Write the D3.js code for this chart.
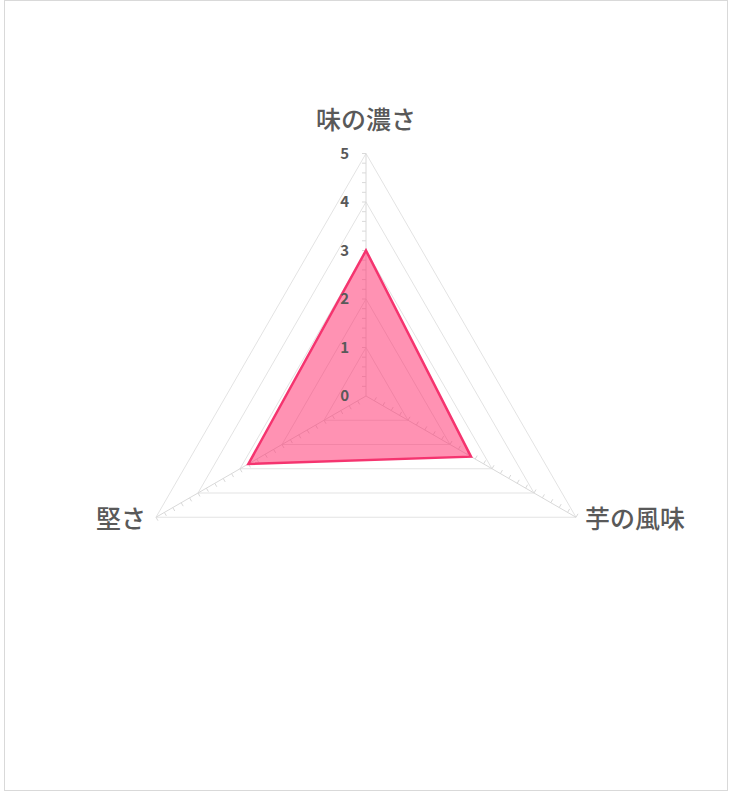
<!DOCTYPE html>
<html>
<head>
<meta charset="utf-8">
<script src="https://cdn.jsdelivr.net/npm/d3@7"></script>
<style>
  body { margin: 0; background: #fff; }
  svg text { font-family: "Noto Sans CJK JP", "Noto Sans", sans-serif; fill: #595959; }
</style>
</head>
<body>
<div id="chart"></div>
<script>
const width = 734,
  height = 800,
  cx = 366,
  cy = 396,
  radius = 242.5;

// data
const categories = ["味の濃さ", "芋の風味", "堅さ"];
const values = [3, 2.5, 2.8];
const tickValues = [0, 1, 2, 3, 4, 5];

const rScale = d3.scaleLinear().domain([0, 5]).range([0, radius]);
const angle = i => -Math.PI / 2 + i * 2 * Math.PI / categories.length;
const pt = (i, v) => [cx + rScale(v) * Math.cos(angle(i)), cy + rScale(v) * Math.sin(angle(i))];

const svg = d3.select("#chart")
  .append("svg")
  .attr("width", width)
  .attr("height", height);

// outer border
svg.append("rect")
  .attr("x", 4.5).attr("y", 0.5)
  .attr("width", 723).attr("height", 790)
  .attr("fill", "none")
  .attr("stroke", "#d9d9d9");

// grid triangles
svg.append("g")
  .selectAll("polygon")
  .data(tickValues.filter(d => d > 0))
  .join("polygon")
  .attr("points", d => categories.map((c, i) => pt(i, d).join(",")).join(" "))
  .attr("fill", "none")
  .attr("stroke", "#e3e3e3")
  .attr("stroke-width", 1);

// axes
const axisG = svg.append("g");
axisG.selectAll("line.spoke")
  .data(categories)
  .join("line")
  .attr("class", "spoke")
  .attr("x1", cx).attr("y1", cy)
  .attr("x2", (d, i) => pt(i, 5)[0])
  .attr("y2", (d, i) => pt(i, 5)[1])
  .attr("stroke", "#d9d9d9");

// minor ticks every 0.2
const minorTicks = d3.range(1, 26).map(k => k / 5);
categories.forEach((c, i) => {
  const a = angle(i);
  const px = -Math.sin(a), py = Math.cos(a); // clockwise perpendicular
  axisG.append("g")
    .selectAll("line")
    .data(minorTicks)
    .join("line")
    .attr("x1", d => pt(i, d)[0])
    .attr("y1", d => pt(i, d)[1])
    .attr("x2", d => pt(i, d)[0] - px * 4)
    .attr("y2", d => pt(i, d)[1] - py * 4)
    .attr("stroke", "#d9d9d9");
});

// data polygon
svg.append("polygon")
  .datum(values)
  .attr("points", d => d.map((v, i) => pt(i, v).join(",")).join(" "))
  .attr("fill", "#ff2e6e")
  .attr("fill-opacity", 0.52)
  .attr("stroke", "#f5346f")
  .attr("stroke-width", 2.5)
  .attr("stroke-linejoin", "miter");

// tick labels
svg.append("g")
  .selectAll("text")
  .data(tickValues)
  .join("text")
  .attr("x", cx - 17)
  .attr("y", d => cy - rScale(d))
  .attr("dy", "0.35em")
  .attr("text-anchor", "end")
  .style("font-size", "15px")
  .style("font-weight", "bold")
  .text(d => d);

// category labels
const labelPos = [
  { x: cx, y: cy - radius - 33, anchor: "middle" },
  { x: pt(1, 5)[0] + 9, y: pt(1, 5)[1] + 2, anchor: "start" },
  { x: pt(2, 5)[0] - 10, y: pt(2, 5)[1] + 2, anchor: "end" }
];
svg.append("g")
  .selectAll("text")
  .data(categories)
  .join("text")
  .attr("x", (d, i) => labelPos[i].x)
  .attr("y", (d, i) => labelPos[i].y)
  .attr("dy", "0.35em")
  .attr("text-anchor", (d, i) => labelPos[i].anchor)
  .style("font-size", "25px")
  .style("font-weight", "500")
  .text(d => d);
</script>
</body>
</html>
